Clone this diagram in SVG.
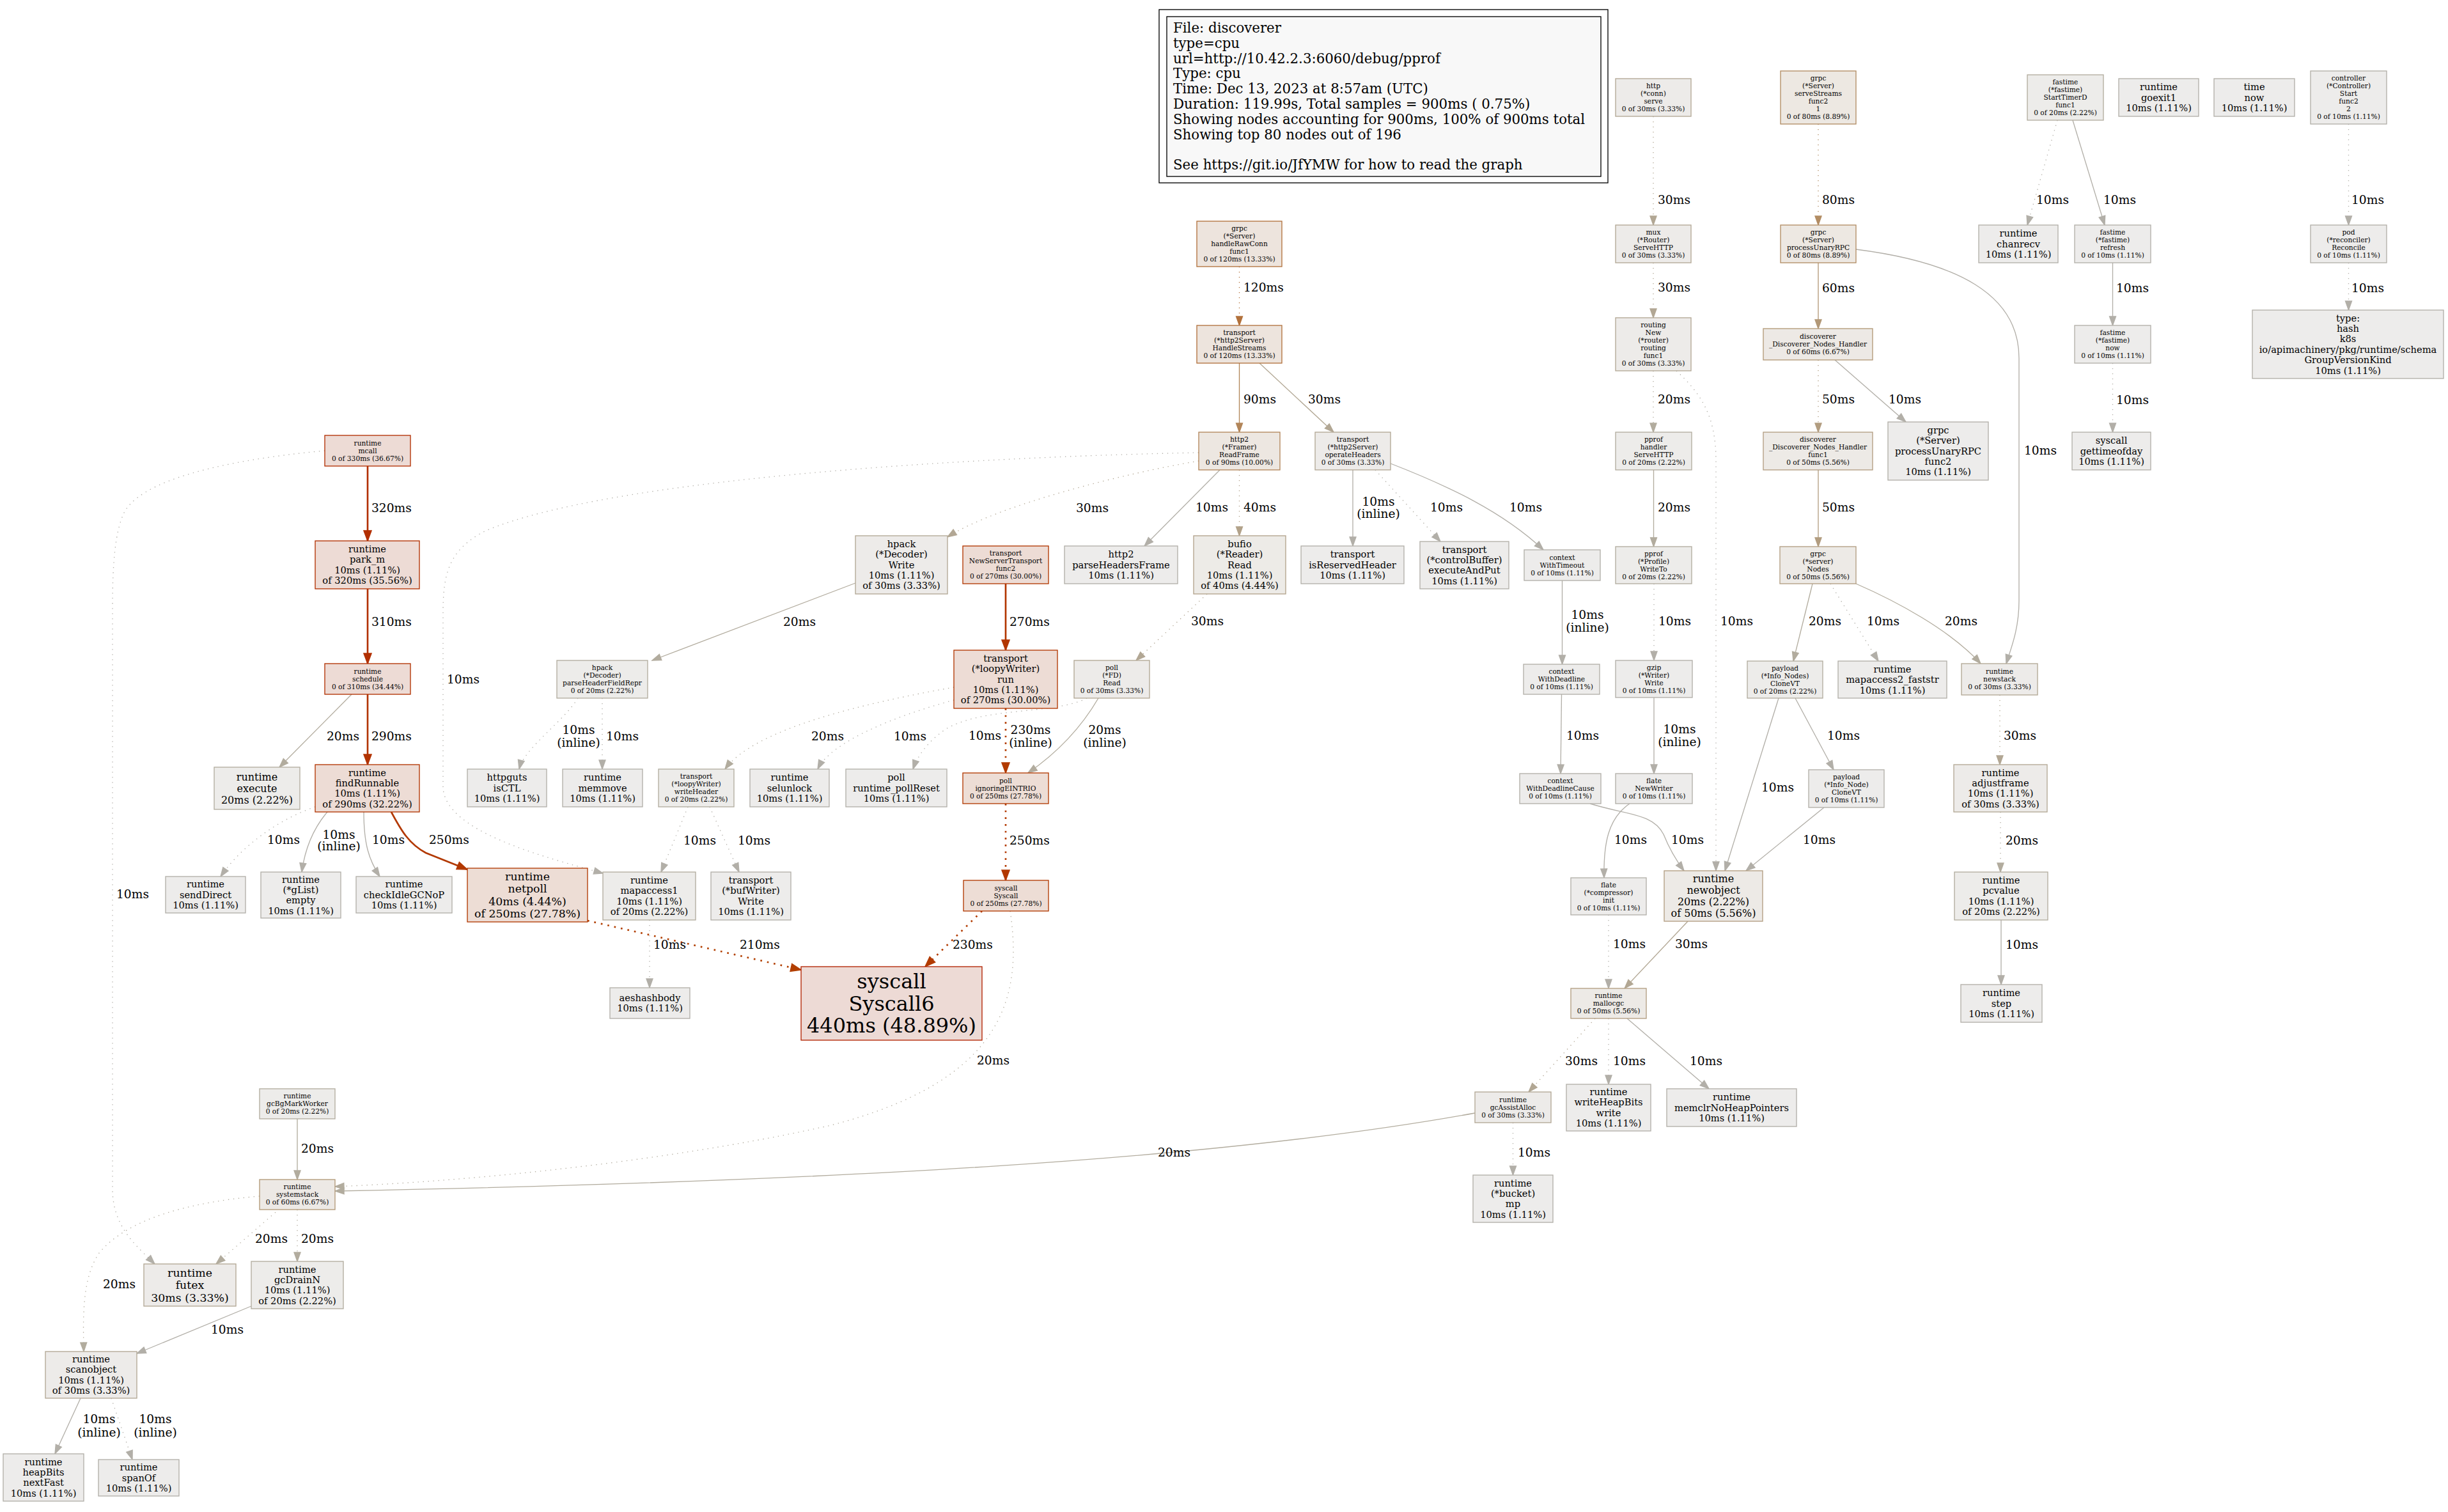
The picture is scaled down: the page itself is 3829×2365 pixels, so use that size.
<svg xmlns="http://www.w3.org/2000/svg" width="3829" height="2365" viewBox="0 0 3829 2365">
<style>
text{font-family:"DejaVu Serif","Liberation Serif",serif;fill:#000}
.n text{text-anchor:middle}
.n rect{stroke-width:1.33}
.f8{font-size:10.67px}.f11{font-size:14.67px}.f12{font-size:16px}.f13{font-size:17.33px}.f24{font-size:32px}
#edges path{fill:none;stroke-width:1.33}
#edges text{font-size:18.67px}
#edges text.m{text-anchor:middle}
#edges .w2{stroke-width:2.67}
#edges .d{stroke-dasharray:1.33 6.67}
#edges .dt{stroke-dasharray:2.67 8}
.c1{stroke:#b2afa8;marker-end:url(#m1)}
.c2{stroke:#b2ac9e;marker-end:url(#m2)}
.c3{stroke:#b2a794;marker-end:url(#m3)}
.c4{stroke:#b2a28a;marker-end:url(#m4)}
.c5{stroke:#b29d80;marker-end:url(#m5)}
.c6{stroke:#b29877;marker-end:url(#m6)}
.c8{stroke:#b28c63;marker-end:url(#m8)}
.c9{stroke:#b28559;marker-end:url(#m9)}
.c12{stroke:#b2713b;marker-end:url(#m12)}
.c21{stroke:#b23f00;marker-end:url(#m21)}
.c23{stroke:#b23b00;marker-end:url(#m23)}
.c25{stroke:#b23800;marker-end:url(#m25)}
.c27{stroke:#b23600;marker-end:url(#m27)}
.c29{stroke:#b23300;marker-end:url(#m29)}
.c31{stroke:#b23000;marker-end:url(#m31)}
.c32{stroke:#b22f00;marker-end:url(#m32)}
</style>
<defs>
<marker id="m1" markerUnits="userSpaceOnUse" markerWidth="16" markerHeight="12" refX="14" refY="5" orient="auto" overflow="visible"><path d="M0,0L14,5L0,10z" fill="#b2afa8" stroke="#b2afa8" stroke-width="1.33"/></marker>
<marker id="m2" markerUnits="userSpaceOnUse" markerWidth="16" markerHeight="12" refX="14" refY="5" orient="auto" overflow="visible"><path d="M0,0L14,5L0,10z" fill="#b2ac9e" stroke="#b2ac9e" stroke-width="1.33"/></marker>
<marker id="m3" markerUnits="userSpaceOnUse" markerWidth="16" markerHeight="12" refX="14" refY="5" orient="auto" overflow="visible"><path d="M0,0L14,5L0,10z" fill="#b2a794" stroke="#b2a794" stroke-width="1.33"/></marker>
<marker id="m4" markerUnits="userSpaceOnUse" markerWidth="16" markerHeight="12" refX="14" refY="5" orient="auto" overflow="visible"><path d="M0,0L14,5L0,10z" fill="#b2a28a" stroke="#b2a28a" stroke-width="1.33"/></marker>
<marker id="m5" markerUnits="userSpaceOnUse" markerWidth="16" markerHeight="12" refX="14" refY="5" orient="auto" overflow="visible"><path d="M0,0L14,5L0,10z" fill="#b29d80" stroke="#b29d80" stroke-width="1.33"/></marker>
<marker id="m6" markerUnits="userSpaceOnUse" markerWidth="16" markerHeight="12" refX="14" refY="5" orient="auto" overflow="visible"><path d="M0,0L14,5L0,10z" fill="#b29877" stroke="#b29877" stroke-width="1.33"/></marker>
<marker id="m8" markerUnits="userSpaceOnUse" markerWidth="16" markerHeight="12" refX="14" refY="5" orient="auto" overflow="visible"><path d="M0,0L14,5L0,10z" fill="#b28c63" stroke="#b28c63" stroke-width="1.33"/></marker>
<marker id="m9" markerUnits="userSpaceOnUse" markerWidth="16" markerHeight="12" refX="14" refY="5" orient="auto" overflow="visible"><path d="M0,0L14,5L0,10z" fill="#b28559" stroke="#b28559" stroke-width="1.33"/></marker>
<marker id="m12" markerUnits="userSpaceOnUse" markerWidth="16" markerHeight="12" refX="14" refY="5" orient="auto" overflow="visible"><path d="M0,0L14,5L0,10z" fill="#b2713b" stroke="#b2713b" stroke-width="1.33"/></marker>
<marker id="m21" markerUnits="userSpaceOnUse" markerWidth="18" markerHeight="14" refX="16" refY="6" orient="auto" overflow="visible"><path d="M0,0L16,6L0,12z" fill="#b23f00" stroke="#b23f00" stroke-width="1.5"/></marker>
<marker id="m23" markerUnits="userSpaceOnUse" markerWidth="18" markerHeight="14" refX="16" refY="6" orient="auto" overflow="visible"><path d="M0,0L16,6L0,12z" fill="#b23b00" stroke="#b23b00" stroke-width="1.5"/></marker>
<marker id="m25" markerUnits="userSpaceOnUse" markerWidth="18" markerHeight="14" refX="16" refY="6" orient="auto" overflow="visible"><path d="M0,0L16,6L0,12z" fill="#b23800" stroke="#b23800" stroke-width="1.5"/></marker>
<marker id="m27" markerUnits="userSpaceOnUse" markerWidth="18" markerHeight="14" refX="16" refY="6" orient="auto" overflow="visible"><path d="M0,0L16,6L0,12z" fill="#b23600" stroke="#b23600" stroke-width="1.5"/></marker>
<marker id="m29" markerUnits="userSpaceOnUse" markerWidth="18" markerHeight="14" refX="16" refY="6" orient="auto" overflow="visible"><path d="M0,0L16,6L0,12z" fill="#b23300" stroke="#b23300" stroke-width="1.5"/></marker>
<marker id="m31" markerUnits="userSpaceOnUse" markerWidth="18" markerHeight="14" refX="16" refY="6" orient="auto" overflow="visible"><path d="M0,0L16,6L0,12z" fill="#b23000" stroke="#b23000" stroke-width="1.5"/></marker>
<marker id="m32" markerUnits="userSpaceOnUse" markerWidth="18" markerHeight="14" refX="16" refY="6" orient="auto" overflow="visible"><path d="M0,0L16,6L0,12z" fill="#b22f00" stroke="#b22f00" stroke-width="1.5"/></marker>
</defs>
<rect x="0" y="0" width="3829" height="2365" fill="#fff"/>

<g id="legend">
<rect x="1813" y="15" width="702" height="271" fill="#fff" stroke="#000" stroke-width="1.33"/>
<rect x="1825" y="26" width="679" height="250" fill="#f8f8f8" stroke="#000" stroke-width="1.33"/>
<text x="1835" y="51" font-size="21.33" style="white-space:pre">File: discoverer<tspan x="1835" dy="23.8">type=cpu</tspan><tspan x="1835" dy="23.8">url=http://10.42.2.3:6060/debug/pprof</tspan><tspan x="1835" dy="23.8">Type: cpu</tspan><tspan x="1835" dy="23.8">Time: Dec 13, 2023 at 8:57am (UTC)</tspan><tspan x="1835" dy="23.8">Duration: 119.99s, Total samples = 900ms ( 0.75%)</tspan><tspan x="1835" dy="23.8">Showing nodes accounting for 900ms, 100% of 900ms total</tspan><tspan x="1835" dy="23.8">Showing top 80 nodes out of 196</tspan><tspan x="1835" dy="47.6">See https://git.io/JfYMW for how to read the graph</tspan></text>
</g>

<g id="edges">
<g><path class="c3 d" d="M2586,182L2586,352"/><text x="2593" y="318.5">30ms</text></g>
<g><path class="c3 d" d="M2586,411L2586,497"/><text x="2593" y="455.5">30ms</text></g>
<g><path class="c2 d" d="M2586,580L2586,676"/><text x="2593" y="630.5">20ms</text></g>
<g><path class="c1 d" d="M2622,580C2660,615 2684,650 2684,720L2684,1362"/><text x="2691" y="977.5">10ms</text></g>
<g><path class="c2" d="M2586.5,735L2586.5,855"/><text x="2593" y="799.5">20ms</text></g>
<g><path class="c1 d" d="M2587,913L2587,1033"/><text x="2594" y="977.5">10ms</text></g>
<g><path class="c1" d="M2587,1091L2587,1210"/><text class="m" x="2627" y="1146.5">10ms<tspan x="2627" dy="20">(inline)</tspan></text></g>
<g><path class="c1" d="M2549,1257C2515,1280 2508,1320 2509,1373"/><text x="2525" y="1319.5">10ms</text></g>
<g><path class="c1 d" d="M2516,1431L2516,1546"/><text x="2523" y="1482.5">10ms</text></g>
<g><path class="c8 d" d="M2844,194L2844,352"/><text x="2850" y="318.5">80ms</text></g>
<g><path class="c6" d="M2844,411L2844,514"/><text x="2850" y="456.5">60ms</text></g>
<g><path class="c1" d="M2903,390C3060,410 3158,460 3158,560L3158,940C3158,985 3145,1015 3138,1038"/><text x="3166" y="710.5">10ms</text></g>
<g><path class="c5 d" d="M2844,563L2844,676"/><text x="2850" y="630.5">50ms</text></g>
<g><path class="c1" d="M2870,563L2981,660"/><text x="2954" y="630.5">10ms</text></g>
<g><path class="c5" d="M2844,735L2844,855"/><text x="2850" y="799.5">50ms</text></g>
<g><path class="c2" d="M2835,913L2805,1034"/><text x="2829" y="977.5">20ms</text></g>
<g><path class="c1 d" d="M2863,913L2938,1034"/><text x="2920" y="977.5">10ms</text></g>
<g><path class="c2" d="M2903,913C2965,940 3050,985 3098,1038"/><text x="3042" y="977.5">20ms</text></g>
<g><path class="c1" d="M2808,1092L2868,1204"/><text x="2858" y="1156.5">10ms</text></g>
<g><path class="c1" d="M2782,1092L2698,1362"/><text x="2755" y="1237.5">10ms</text></g>
<g><path class="c1" d="M2853,1263L2731,1362"/><text x="2820" y="1319.5">10ms</text></g>
<g><path class="c3 d" d="M3128,1087L3128,1196"/><text x="3134" y="1156.5">30ms</text></g>
<g><path class="c2 d" d="M3129,1270L3129,1364"/><text x="3137" y="1320.5">20ms</text></g>
<g><path class="c1" d="M3130,1439L3130,1540"/><text x="3137" y="1483.5">10ms</text></g>
<g><path class="c1 d" d="M3218,188L3171,352"/><text x="3185" y="318.5">10ms</text></g>
<g><path class="c1" d="M3242,188L3292,352"/><text x="3290" y="318.5">10ms</text></g>
<g><path class="c1" d="M3304.5,411L3304.5,509"/><text x="3310" y="456.5">10ms</text></g>
<g><path class="c1 d" d="M3304.5,568L3304.5,676"/><text x="3310" y="631.5">10ms</text></g>
<g><path class="c1 d" d="M3673.5,194L3673.5,352"/><text x="3678" y="318.5">10ms</text></g>
<g><path class="c1 d" d="M3673.5,411L3673.5,485"/><text x="3678" y="456.5">10ms</text></g>
<g><path class="c12 d" d="M1938.5,417L1938.5,509"/><text x="1945" y="455.5">120ms</text></g>
<g><path class="c9" d="M1938.5,568L1938.5,676"/><text x="1945" y="630.5">90ms</text></g>
<g><path class="c3" d="M1970,568L2086,676"/><text x="2046" y="630.5">30ms</text></g>
<g><path class="c3 d" d="M1875,721C1760,740 1560,790 1482,840"/><text x="1683" y="800.5">30ms</text></g>
<g><path class="c1" d="M1908,735L1790,854"/><text x="1870" y="799.5">10ms</text></g>
<g><path class="c4 d" d="M1938.5,735L1938.5,838"/><text x="1945" y="799.5">40ms</text></g>
<g><path class="c1 d" d="M1875,708C1500,715 950,750 760,830C700,860 693,900 693,960L693,1230C693,1300 850,1340 943,1366"/><text x="699" y="1068.5">10ms</text></g>
<g><path class="c1" d="M2116,735L2116,854"/><text class="m" x="2156" y="790.5">10ms<tspan x="2156" dy="19">(inline)</tspan></text></g>
<g><path class="c1 d" d="M2151,735L2253,847"/><text x="2237" y="799.5">10ms</text></g>
<g><path class="c1" d="M2175,725C2265,760 2350,800 2414,860"/><text x="2361" y="799.5">10ms</text></g>
<g><path class="c1" d="M2443.5,908L2443.5,1039"/><text class="m" x="2483" y="967.5">10ms<tspan x="2483" dy="20">(inline)</tspan></text></g>
<g><path class="c1" d="M2442.5,1086L2441,1210"/><text x="2450" y="1156.5">10ms</text></g>
<g><path class="c1" d="M2487,1257C2545,1275 2585,1272 2602,1305C2612,1330 2625,1350 2634,1362"/><text x="2614" y="1319.5">10ms</text></g>
<g><path class="c3" d="M2640,1441L2541,1546"/><text x="2620" y="1482.5">30ms</text></g>
<g><path class="c3 d" d="M2495,1593L2391,1708"/><text x="2448" y="1665.5">30ms</text></g>
<g><path class="c1 d" d="M2516,1593L2516,1696"/><text x="2523" y="1665.5">10ms</text></g>
<g><path class="c1" d="M2545,1593L2673,1703"/><text x="2643" y="1665.5">10ms</text></g>
<g><path class="c1 d" d="M2366.5,1756L2366.5,1838"/><text x="2374" y="1808.5">10ms</text></g>
<g><path class="c2" d="M2307,1741C1900,1815 1300,1848 524,1863"/><text x="1811" y="1808.5">20ms</text></g>
<g><path class="c2" d="M1338,912L1020,1033"/><text x="1225" y="978.5">20ms</text></g>
<g><path class="c1 d" d="M904,1092C880,1130 820,1170 812,1203"/><text class="m" x="905" y="1147.5">10ms<tspan x="905" dy="20">(inline)</tspan></text></g>
<g><path class="c1 d" d="M942,1092L942,1203"/><text x="948" y="1157.5">10ms</text></g>
<g><path class="c27 w2" d="M1573,913L1573,1017"/><text x="1579" y="978.5">270ms</text></g>
<g><path class="c2 d" d="M1492,1075C1350,1100 1180,1140 1134,1203"/><text x="1269" y="1157.5">20ms</text></g>
<g><path class="c1 d" d="M1492,1095C1400,1120 1300,1160 1279,1203"/><text x="1398" y="1157.5">10ms</text></g>
<g><path class="c1 d" d="M1700,1092C1650,1118 1540,1105 1480,1140C1450,1160 1434,1185 1428,1203"/><text x="1515" y="1156.5">10ms</text></g>
<g><path class="c23 w2 dt" d="M1573,1108L1573,1209"/><text class="m" x="1612" y="1147.5">230ms<tspan x="1612" dy="20">(inline)</tspan></text></g>
<g><path class="c3 d" d="M1888,929L1777,1033"/><text x="1863" y="977.5">30ms</text></g>
<g><path class="c2" d="M1718,1092C1690,1140 1650,1180 1608,1209"/><text class="m" x="1728" y="1147.5">20ms<tspan x="1728" dy="20">(inline)</tspan></text></g>
<g><path class="c1 d" d="M508,705C400,715 230,740 195,800C180,830 176,880 176,950L176,1860C176,1920 215,1950 242,1977"/><text x="182" y="1404.5">10ms</text></g>
<g><path class="c32 w2" d="M575,729L575,846"/><text x="581" y="800.5">320ms</text></g>
<g><path class="c31 w2" d="M575,921L575,1038"/><text x="581" y="978.5">310ms</text></g>
<g><path class="c2" d="M550,1086L437,1200"/><text x="511" y="1157.5">20ms</text></g>
<g><path class="c29 w2" d="M575,1086L575,1196"/><text x="581" y="1157.5">290ms</text></g>
<g><path class="c1 d" d="M493,1262C440,1280 380,1320 345,1371"/><text x="418" y="1319.5">10ms</text></g>
<g><path class="c1" d="M512,1270C495,1290 478,1320 472,1364"/><text class="m" x="530" y="1311.5">10ms<tspan x="530" dy="18">(inline)</tspan></text></g>
<g><path class="c1" d="M569,1270C569,1320 577,1345 594,1371"/><text x="582" y="1319.5">10ms</text></g>
<g><path class="c25 w2" d="M612,1270C628,1300 640,1320 666,1334L731,1360"/><text x="671" y="1319.5">250ms</text></g>
<g><path class="c21 w2 dt" d="M919,1440L1253,1517"/><text x="1157" y="1483.5">210ms</text></g>
<g><path class="c1 d" d="M1016,1439L1016,1545"/><text x="1022" y="1483.5">10ms</text></g>
<g><path class="c25 w2 dt" d="M1573,1257L1573,1377"/><text x="1579" y="1320.5">250ms</text></g>
<g><path class="c23 w2 dt" d="M1536,1425L1447,1512"/><text x="1490" y="1483.5">230ms</text></g>
<g><path class="c2 d" d="M1580,1425C1600,1560 1570,1690 1300,1760C1100,1805 800,1845 524,1856"/><text x="1528" y="1664.5">20ms</text></g>
<g><path class="c2" d="M465,1750L465,1845"/><text x="471" y="1802.5">20ms</text></g>
<g><path class="c2 d" d="M437,1891L338,1977"/><text x="399" y="1943.5">20ms</text></g>
<g><path class="c2 d" d="M465,1892L465,1973"/><text x="471" y="1943.5">20ms</text></g>
<g><path class="c2 d" d="M406,1871C300,1880 200,1905 155,1960C128,2000 130,2060 131,2114"/><text x="161" y="2014.5">20ms</text></g>
<g><path class="c1" d="M393,2043L214,2117"/><text x="330" y="2085.5">10ms</text></g>
<g><path class="c1" d="M126,2187L86,2274"/><text class="m" x="155" y="2225.5">10ms<tspan x="155" dy="21">(inline)</tspan></text></g>
<g><path class="c1 d" d="M174,2187L207,2283"/><text class="m" x="243" y="2225.5">10ms<tspan x="243" dy="21">(inline)</tspan></text></g>
<g><path class="c1 d" d="M1076,1262L1034,1364"/><text x="1069" y="1320.5">10ms</text></g>
<g><path class="c1 d" d="M1110,1262L1156,1364"/><text x="1154" y="1320.5">10ms</text></g>
</g>

<g id="node-http-conn-serve" class="n"><rect x="2527" y="123" width="118" height="59" fill="#edebe9" stroke="#b2a794"/><text class="f8" x="2586" y="138.2">http<tspan x="2586" dy="12">(*conn)</tspan><tspan x="2586" dy="12">serve</tspan><tspan x="2586" dy="12">0 of 30ms (3.33%)</tspan></text></g>
<g id="node-grpc-serveStreams" class="n"><rect x="2785" y="111" width="118" height="83" fill="#ede8e2" stroke="#b28c63"/><text class="f8" x="2844" y="126.2">grpc<tspan x="2844" dy="12">(*Server)</tspan><tspan x="2844" dy="12">serveStreams</tspan><tspan x="2844" dy="12">func2</tspan><tspan x="2844" dy="12">1</tspan><tspan x="2844" dy="12">0 of 80ms (8.89%)</tspan></text></g>
<g id="node-fastime-StartTimerD" class="n"><rect x="3171" y="117" width="119" height="71" fill="#edecea" stroke="#b2ac9e"/><text class="f8" x="3230.5" y="132.2">fastime<tspan x="3230.5" dy="12">(*fastime)</tspan><tspan x="3230.5" dy="12">StartTimerD</tspan><tspan x="3230.5" dy="12">func1</tspan><tspan x="3230.5" dy="12">0 of 20ms (2.22%)</tspan></text></g>
<g id="node-runtime-goexit1" class="n"><rect x="3314" y="123" width="125" height="59" fill="#edeceb" stroke="#b2afa8"/><text class="f11" x="3376.5" y="141.2">runtime<tspan x="3376.5" dy="16.4">goexit1</tspan><tspan x="3376.5" dy="16.4">10ms (1.11%)</tspan></text></g>
<g id="node-time-now" class="n"><rect x="3463" y="123" width="126" height="59" fill="#edeceb" stroke="#b2afa8"/><text class="f11" x="3526" y="141.2">time<tspan x="3526" dy="16.4">now</tspan><tspan x="3526" dy="16.4">10ms (1.11%)</tspan></text></g>
<g id="node-controller-Start" class="n"><rect x="3614" y="111" width="119" height="83" fill="#edeceb" stroke="#b2afa8"/><text class="f8" x="3673.5" y="126.2">controller<tspan x="3673.5" dy="12">(*Controller)</tspan><tspan x="3673.5" dy="12">Start</tspan><tspan x="3673.5" dy="12">func2</tspan><tspan x="3673.5" dy="12">2</tspan><tspan x="3673.5" dy="12">0 of 10ms (1.11%)</tspan></text></g>

<g id="node-grpc-handleRawConn" class="n"><rect x="1872" y="346" width="133" height="71" fill="#ede4dd" stroke="#b2713b"/><text class="f8" x="1938.5" y="361.2">grpc<tspan x="1938.5" dy="12">(*Server)</tspan><tspan x="1938.5" dy="12">handleRawConn</tspan><tspan x="1938.5" dy="12">func1</tspan><tspan x="1938.5" dy="12">0 of 120ms (13.33%)</tspan></text></g>
<g id="node-mux-ServeHTTP" class="n"><rect x="2527" y="352" width="118" height="59" fill="#edebe9" stroke="#b2a794"/><text class="f8" x="2586" y="367.2">mux<tspan x="2586" dy="12">(*Router)</tspan><tspan x="2586" dy="12">ServeHTTP</tspan><tspan x="2586" dy="12">0 of 30ms (3.33%)</tspan></text></g>
<g id="node-grpc-processUnaryRPC" class="n"><rect x="2785" y="352" width="118" height="59" fill="#ede8e2" stroke="#b28c63"/><text class="f8" x="2844" y="367.2">grpc<tspan x="2844" dy="12">(*Server)</tspan><tspan x="2844" dy="12">processUnaryRPC</tspan><tspan x="2844" dy="12">0 of 80ms (8.89%)</tspan></text></g>
<g id="node-runtime-chanrecv" class="n"><rect x="3095" y="352" width="124" height="59" fill="#edeceb" stroke="#b2afa8"/><text class="f11" x="3157" y="370.2">runtime<tspan x="3157" dy="16.4">chanrecv</tspan><tspan x="3157" dy="16.4">10ms (1.11%)</tspan></text></g>
<g id="node-fastime-refresh" class="n"><rect x="3245" y="352" width="119" height="59" fill="#edeceb" stroke="#b2afa8"/><text class="f8" x="3304.5" y="367.2">fastime<tspan x="3304.5" dy="12">(*fastime)</tspan><tspan x="3304.5" dy="12">refresh</tspan><tspan x="3304.5" dy="12">0 of 10ms (1.11%)</tspan></text></g>
<g id="node-pod-Reconcile" class="n"><rect x="3614" y="352" width="119" height="59" fill="#edeceb" stroke="#b2afa8"/><text class="f8" x="3673.5" y="367.2">pod<tspan x="3673.5" dy="12">(*reconciler)</tspan><tspan x="3673.5" dy="12">Reconcile</tspan><tspan x="3673.5" dy="12">0 of 10ms (1.11%)</tspan></text></g>

<g id="node-transport-HandleStreams" class="n"><rect x="1872" y="509" width="133" height="59" fill="#ede4dd" stroke="#b2713b"/><text class="f8" x="1938.5" y="524.2">transport<tspan x="1938.5" dy="12">(*http2Server)</tspan><tspan x="1938.5" dy="12">HandleStreams</tspan><tspan x="1938.5" dy="12">0 of 120ms (13.33%)</tspan></text></g>
<g id="node-routing-func1" class="n"><rect x="2527" y="497" width="118" height="83" fill="#edebe9" stroke="#b2a794"/><text class="f8" x="2586" y="512.2">routing<tspan x="2586" dy="12">New</tspan><tspan x="2586" dy="12">(*router)</tspan><tspan x="2586" dy="12">routing</tspan><tspan x="2586" dy="12">func1</tspan><tspan x="2586" dy="12">0 of 30ms (3.33%)</tspan></text></g>
<g id="node-discoverer-handler" class="n"><rect x="2758" y="514" width="171" height="49" fill="#ede9e5" stroke="#b29877"/><text class="f8" x="2843.5" y="530.2">discoverer<tspan x="2843.5" dy="12">_Discoverer_Nodes_Handler</tspan><tspan x="2843.5" dy="12">0 of 60ms (6.67%)</tspan></text></g>
<g id="node-fastime-now" class="n"><rect x="3245" y="509" width="119" height="59" fill="#edeceb" stroke="#b2afa8"/><text class="f8" x="3304.5" y="524.2">fastime<tspan x="3304.5" dy="12">(*fastime)</tspan><tspan x="3304.5" dy="12">now</tspan><tspan x="3304.5" dy="12">0 of 10ms (1.11%)</tspan></text></g>
<g id="node-type-hash" class="n"><rect x="3523" y="485" width="299" height="107" fill="#edeceb" stroke="#b2afa8"/><text class="f11" x="3672.5" y="502.6">type:<tspan x="3672.5" dy="16.4">hash</tspan><tspan x="3672.5" dy="16.4">k8s</tspan><tspan x="3672.5" dy="16.4">io/apimachinery/pkg/runtime/schema</tspan><tspan x="3672.5" dy="16.4">GroupVersionKind</tspan><tspan x="3672.5" dy="16.4">10ms (1.11%)</tspan></text></g>

<g id="node-runtime-mcall" class="n"><rect x="508" y="681" width="134" height="48" fill="#eddbd5" stroke="#b22e00"/><text class="f8" x="575" y="696.7">runtime<tspan x="575" dy="12">mcall</tspan><tspan x="575" dy="12">0 of 330ms (36.67%)</tspan></text></g>
<g id="node-http2-ReadFrame" class="n"><rect x="1875" y="676" width="127" height="59" fill="#ede7e1" stroke="#b28559"/><text class="f8" x="1938.5" y="691.2">http2<tspan x="1938.5" dy="12">(*Framer)</tspan><tspan x="1938.5" dy="12">ReadFrame</tspan><tspan x="1938.5" dy="12">0 of 90ms (10.00%)</tspan></text></g>
<g id="node-transport-operateHeaders" class="n"><rect x="2057" y="676" width="118" height="59" fill="#edebe9" stroke="#b2a794"/><text class="f8" x="2116" y="691.2">transport<tspan x="2116" dy="12">(*http2Server)</tspan><tspan x="2116" dy="12">operateHeaders</tspan><tspan x="2116" dy="12">0 of 30ms (3.33%)</tspan></text></g>
<g id="node-pprof-handler" class="n"><rect x="2527" y="676" width="119" height="59" fill="#edecea" stroke="#b2ac9e"/><text class="f8" x="2586.5" y="691.2">pprof<tspan x="2586.5" dy="12">handler</tspan><tspan x="2586.5" dy="12">ServeHTTP</tspan><tspan x="2586.5" dy="12">0 of 20ms (2.22%)</tspan></text></g>
<g id="node-discoverer-handler-func1" class="n"><rect x="2758" y="676" width="171" height="59" fill="#edeae6" stroke="#b29d80"/><text class="f8" x="2843.5" y="691.2">discoverer<tspan x="2843.5" dy="12">_Discoverer_Nodes_Handler</tspan><tspan x="2843.5" dy="12">func1</tspan><tspan x="2843.5" dy="12">0 of 50ms (5.56%)</tspan></text></g>
<g id="node-grpc-processUnaryRPC-func2" class="n"><rect x="2953" y="660" width="157" height="91" fill="#edeceb" stroke="#b2afa8"/><text class="f11" x="3031.5" y="677.8">grpc<tspan x="3031.5" dy="16.4">(*Server)</tspan><tspan x="3031.5" dy="16.4">processUnaryRPC</tspan><tspan x="3031.5" dy="16.4">func2</tspan><tspan x="3031.5" dy="16.4">10ms (1.11%)</tspan></text></g>
<g id="node-syscall-gettimeofday" class="n"><rect x="3241" y="676" width="123" height="59" fill="#edeceb" stroke="#b2afa8"/><text class="f11" x="3302.5" y="694.2">syscall<tspan x="3302.5" dy="16.4">gettimeofday</tspan><tspan x="3302.5" dy="16.4">10ms (1.11%)</tspan></text></g>

<g id="node-runtime-park_m" class="n"><rect x="493" y="846" width="163" height="75" fill="#eddbd5" stroke="#b22f00"/><text class="f11" x="574.5" y="864">runtime<tspan x="574.5" dy="16.4">park_m</tspan><tspan x="574.5" dy="16.4">10ms (1.11%)</tspan><tspan x="574.5" dy="16.4">of 320ms (35.56%)</tspan></text></g>
<g id="node-hpack-Write" class="n"><rect x="1338" y="838" width="144" height="91" fill="#edebe9" stroke="#b2a794"/><text class="f11" x="1410" y="855.8">hpack<tspan x="1410" dy="16.4">(*Decoder)</tspan><tspan x="1410" dy="16.4">Write</tspan><tspan x="1410" dy="16.4">10ms (1.11%)</tspan><tspan x="1410" dy="16.4">of 30ms (3.33%)</tspan></text></g>
<g id="node-transport-NewServerTransport" class="n"><rect x="1506" y="854" width="134" height="59" fill="#eddcd5" stroke="#b23600"/><text class="f8" x="1573" y="869.2">transport<tspan x="1573" dy="12">NewServerTransport</tspan><tspan x="1573" dy="12">func2</tspan><tspan x="1573" dy="12">0 of 270ms (30.00%)</tspan></text></g>
<g id="node-http2-parseHeadersFrame" class="n"><rect x="1665" y="854" width="177" height="59" fill="#edeceb" stroke="#b2afa8"/><text class="f11" x="1753.5" y="872.2">http2<tspan x="1753.5" dy="16.4">parseHeadersFrame</tspan><tspan x="1753.5" dy="16.4">10ms (1.11%)</tspan></text></g>
<g id="node-bufio-Read" class="n"><rect x="1867" y="838" width="144" height="91" fill="#edebe7" stroke="#b2a28a"/><text class="f11" x="1939" y="855.8">bufio<tspan x="1939" dy="16.4">(*Reader)</tspan><tspan x="1939" dy="16.4">Read</tspan><tspan x="1939" dy="16.4">10ms (1.11%)</tspan><tspan x="1939" dy="16.4">of 40ms (4.44%)</tspan></text></g>
<g id="node-transport-isReservedHeader" class="n"><rect x="2035" y="854" width="161" height="59" fill="#edeceb" stroke="#b2afa8"/><text class="f11" x="2115.5" y="872.2">transport<tspan x="2115.5" dy="16.4">isReservedHeader</tspan><tspan x="2115.5" dy="16.4">10ms (1.11%)</tspan></text></g>
<g id="node-transport-executeAndPut" class="n"><rect x="2221" y="847" width="139" height="74" fill="#edeceb" stroke="#b2afa8"/><text class="f11" x="2290.5" y="864.5">transport<tspan x="2290.5" dy="16.4">(*controlBuffer)</tspan><tspan x="2290.5" dy="16.4">executeAndPut</tspan><tspan x="2290.5" dy="16.4">10ms (1.11%)</tspan></text></g>
<g id="node-context-WithTimeout" class="n"><rect x="2384" y="860" width="119" height="48" fill="#edeceb" stroke="#b2afa8"/><text class="f8" x="2443.5" y="875.7">context<tspan x="2443.5" dy="12">WithTimeout</tspan><tspan x="2443.5" dy="12">0 of 10ms (1.11%)</tspan></text></g>
<g id="node-pprof-WriteTo" class="n"><rect x="2527" y="855" width="119" height="58" fill="#edecea" stroke="#b2ac9e"/><text class="f8" x="2586.5" y="869.7">pprof<tspan x="2586.5" dy="12">(*Profile)</tspan><tspan x="2586.5" dy="12">WriteTo</tspan><tspan x="2586.5" dy="12">0 of 20ms (2.22%)</tspan></text></g>
<g id="node-grpc-Nodes" class="n"><rect x="2784" y="855" width="119" height="58" fill="#edeae6" stroke="#b29d80"/><text class="f8" x="2843.5" y="869.7">grpc<tspan x="2843.5" dy="12">(*server)</tspan><tspan x="2843.5" dy="12">Nodes</tspan><tspan x="2843.5" dy="12">0 of 50ms (5.56%)</tspan></text></g>

<g id="node-runtime-schedule" class="n"><rect x="508" y="1038" width="134" height="48" fill="#eddbd5" stroke="#b23000"/><text class="f8" x="575" y="1053.7">runtime<tspan x="575" dy="12">schedule</tspan><tspan x="575" dy="12">0 of 310ms (34.44%)</tspan></text></g>
<g id="node-hpack-parseHeaderFieldRepr" class="n"><rect x="871" y="1033" width="142" height="59" fill="#edecea" stroke="#b2ac9e"/><text class="f8" x="942" y="1048.2">hpack<tspan x="942" dy="12">(*Decoder)</tspan><tspan x="942" dy="12">parseHeaderFieldRepr</tspan><tspan x="942" dy="12">0 of 20ms (2.22%)</tspan></text></g>
<g id="node-transport-loopyWriter-run" class="n"><rect x="1492" y="1017" width="162" height="91" fill="#eddcd5" stroke="#b23600"/><text class="f11" x="1573" y="1034.8">transport<tspan x="1573" dy="16.4">(*loopyWriter)</tspan><tspan x="1573" dy="16.4">run</tspan><tspan x="1573" dy="16.4">10ms (1.11%)</tspan><tspan x="1573" dy="16.4">of 270ms (30.00%)</tspan></text></g>
<g id="node-poll-FD-Read" class="n"><rect x="1680" y="1033" width="118" height="59" fill="#edebe9" stroke="#b2a794"/><text class="f8" x="1739" y="1048.2">poll<tspan x="1739" dy="12">(*FD)</tspan><tspan x="1739" dy="12">Read</tspan><tspan x="1739" dy="12">0 of 30ms (3.33%)</tspan></text></g>
<g id="node-context-WithDeadline" class="n"><rect x="2383" y="1039" width="119" height="47" fill="#edeceb" stroke="#b2afa8"/><text class="f8" x="2442.5" y="1054.2">context<tspan x="2442.5" dy="12">WithDeadline</tspan><tspan x="2442.5" dy="12">0 of 10ms (1.11%)</tspan></text></g>
<g id="node-gzip-Write" class="n"><rect x="2527" y="1033" width="120" height="58" fill="#edeceb" stroke="#b2afa8"/><text class="f8" x="2587" y="1048.2">gzip<tspan x="2587" dy="12">(*Writer)</tspan><tspan x="2587" dy="12">Write</tspan><tspan x="2587" dy="12">0 of 10ms (1.11%)</tspan></text></g>
<g id="node-payload-Info_Nodes-CloneVT" class="n"><rect x="2733" y="1034" width="118" height="58" fill="#edecea" stroke="#b2ac9e"/><text class="f8" x="2792" y="1048.7">payload<tspan x="2792" dy="12">(*Info_Nodes)</tspan><tspan x="2792" dy="12">CloneVT</tspan><tspan x="2792" dy="12">0 of 20ms (2.22%)</tspan></text></g>
<g id="node-runtime-mapaccess2_faststr" class="n"><rect x="2875" y="1034" width="170" height="58" fill="#edeceb" stroke="#b2afa8"/><text class="f11" x="2960" y="1051.7">runtime<tspan x="2960" dy="16.4">mapaccess2_faststr</tspan><tspan x="2960" dy="16.4">10ms (1.11%)</tspan></text></g>
<g id="node-runtime-newstack" class="n"><rect x="3068" y="1038" width="119" height="49" fill="#edebe9" stroke="#b2a794"/><text class="f8" x="3127.5" y="1054.2">runtime<tspan x="3127.5" dy="12">newstack</tspan><tspan x="3127.5" dy="12">0 of 30ms (3.33%)</tspan></text></g>

<g id="node-runtime-execute" class="n"><rect x="335" y="1200" width="134" height="66" fill="#edecea" stroke="#b2ac9e"/><text class="f12" x="402" y="1220.7">runtime<tspan x="402" dy="17.9">execute</tspan><tspan x="402" dy="17.9">20ms (2.22%)</tspan></text></g>
<g id="node-runtime-findRunnable" class="n"><rect x="493" y="1196" width="163" height="74" fill="#eddcd5" stroke="#b23300"/><text class="f11" x="574.5" y="1213.5">runtime<tspan x="574.5" dy="16.4">findRunnable</tspan><tspan x="574.5" dy="16.4">10ms (1.11%)</tspan><tspan x="574.5" dy="16.4">of 290ms (32.22%)</tspan></text></g>
<g id="node-httpguts-isCTL" class="n"><rect x="731" y="1203" width="124" height="59" fill="#edeceb" stroke="#b2afa8"/><text class="f11" x="793" y="1221.2">httpguts<tspan x="793" dy="16.4">isCTL</tspan><tspan x="793" dy="16.4">10ms (1.11%)</tspan></text></g>
<g id="node-runtime-memmove" class="n"><rect x="880" y="1203" width="125" height="59" fill="#edeceb" stroke="#b2afa8"/><text class="f11" x="942.5" y="1221.2">runtime<tspan x="942.5" dy="16.4">memmove</tspan><tspan x="942.5" dy="16.4">10ms (1.11%)</tspan></text></g>
<g id="node-transport-writeHeader" class="n"><rect x="1030" y="1203" width="118" height="59" fill="#edecea" stroke="#b2ac9e"/><text class="f8" x="1089" y="1218.2">transport<tspan x="1089" dy="12">(*loopyWriter)</tspan><tspan x="1089" dy="12">writeHeader</tspan><tspan x="1089" dy="12">0 of 20ms (2.22%)</tspan></text></g>
<g id="node-runtime-selunlock" class="n"><rect x="1173" y="1203" width="124" height="59" fill="#edeceb" stroke="#b2afa8"/><text class="f11" x="1235" y="1221.2">runtime<tspan x="1235" dy="16.4">selunlock</tspan><tspan x="1235" dy="16.4">10ms (1.11%)</tspan></text></g>
<g id="node-poll-runtime_pollReset" class="n"><rect x="1323" y="1203" width="158" height="59" fill="#edeceb" stroke="#b2afa8"/><text class="f11" x="1402" y="1221.2">poll<tspan x="1402" dy="16.4">runtime_pollReset</tspan><tspan x="1402" dy="16.4">10ms (1.11%)</tspan></text></g>
<g id="node-poll-ignoringEINTRIO" class="n"><rect x="1506" y="1209" width="134" height="48" fill="#edddd5" stroke="#b23800"/><text class="f8" x="1573" y="1224.7">poll<tspan x="1573" dy="12">ignoringEINTRIO</tspan><tspan x="1573" dy="12">0 of 250ms (27.78%)</tspan></text></g>
<g id="node-context-WithDeadlineCause" class="n"><rect x="2377" y="1210" width="127" height="47" fill="#edeceb" stroke="#b2afa8"/><text class="f8" x="2440.5" y="1225.2">context<tspan x="2440.5" dy="12">WithDeadlineCause</tspan><tspan x="2440.5" dy="12">0 of 10ms (1.11%)</tspan></text></g>
<g id="node-flate-NewWriter" class="n"><rect x="2527" y="1210" width="120" height="47" fill="#edeceb" stroke="#b2afa8"/><text class="f8" x="2587" y="1225.2">flate<tspan x="2587" dy="12">NewWriter</tspan><tspan x="2587" dy="12">0 of 10ms (1.11%)</tspan></text></g>
<g id="node-payload-Info_Node-CloneVT" class="n"><rect x="2829" y="1204" width="118" height="59" fill="#edeceb" stroke="#b2afa8"/><text class="f8" x="2888" y="1219.2">payload<tspan x="2888" dy="12">(*Info_Node)</tspan><tspan x="2888" dy="12">CloneVT</tspan><tspan x="2888" dy="12">0 of 10ms (1.11%)</tspan></text></g>
<g id="node-runtime-adjustframe" class="n"><rect x="3056" y="1196" width="146" height="74" fill="#edebe9" stroke="#b2a794"/><text class="f11" x="3129" y="1213.5">runtime<tspan x="3129" dy="16.4">adjustframe</tspan><tspan x="3129" dy="16.4">10ms (1.11%)</tspan><tspan x="3129" dy="16.4">of 30ms (3.33%)</tspan></text></g>

<g id="node-runtime-sendDirect" class="n"><rect x="259" y="1371" width="125" height="57" fill="#edeceb" stroke="#b2afa8"/><text class="f11" x="321.5" y="1388.2">runtime<tspan x="321.5" dy="16.4">sendDirect</tspan><tspan x="321.5" dy="16.4">10ms (1.11%)</tspan></text></g>
<g id="node-runtime-gList-empty" class="n"><rect x="408" y="1364" width="125" height="72" fill="#edeceb" stroke="#b2afa8"/><text class="f11" x="470.5" y="1380.5">runtime<tspan x="470.5" dy="16.4">(*gList)</tspan><tspan x="470.5" dy="16.4">empty</tspan><tspan x="470.5" dy="16.4">10ms (1.11%)</tspan></text></g>
<g id="node-runtime-checkIdleGCNoP" class="n"><rect x="557" y="1371" width="150" height="57" fill="#edeceb" stroke="#b2afa8"/><text class="f11" x="632" y="1388.2">runtime<tspan x="632" dy="16.4">checkIdleGCNoP</tspan><tspan x="632" dy="16.4">10ms (1.11%)</tspan></text></g>
<g id="node-runtime-netpoll" class="n"><rect x="731" y="1358" width="188" height="84" fill="#edddd5" stroke="#b23800"/><text class="f13" x="825" y="1377">runtime<tspan x="825" dy="19.4">netpoll</tspan><tspan x="825" dy="19.4">40ms (4.44%)</tspan><tspan x="825" dy="19.4">of 250ms (27.78%)</tspan></text></g>
<g id="node-runtime-mapaccess1" class="n"><rect x="943" y="1364" width="145" height="75" fill="#edecea" stroke="#b2ac9e"/><text class="f11" x="1015.5" y="1382">runtime<tspan x="1015.5" dy="16.4">mapaccess1</tspan><tspan x="1015.5" dy="16.4">10ms (1.11%)</tspan><tspan x="1015.5" dy="16.4">of 20ms (2.22%)</tspan></text></g>
<g id="node-transport-bufWriter-Write" class="n"><rect x="1112" y="1364" width="125" height="75" fill="#edeceb" stroke="#b2afa8"/><text class="f11" x="1174.5" y="1382">transport<tspan x="1174.5" dy="16.4">(*bufWriter)</tspan><tspan x="1174.5" dy="16.4">Write</tspan><tspan x="1174.5" dy="16.4">10ms (1.11%)</tspan></text></g>
<g id="node-syscall-Syscall" class="n"><rect x="1507" y="1377" width="133" height="48" fill="#edddd5" stroke="#b23800"/><text class="f8" x="1573.5" y="1392.7">syscall<tspan x="1573.5" dy="12">Syscall</tspan><tspan x="1573.5" dy="12">0 of 250ms (27.78%)</tspan></text></g>
<g id="node-flate-compressor-init" class="n"><rect x="2457" y="1373" width="118" height="58" fill="#edeceb" stroke="#b2afa8"/><text class="f8" x="2516" y="1387.7">flate<tspan x="2516" dy="12">(*compressor)</tspan><tspan x="2516" dy="12">init</tspan><tspan x="2516" dy="12">0 of 10ms (1.11%)</tspan></text></g>
<g id="node-runtime-newobject" class="n"><rect x="2603" y="1362" width="154" height="79" fill="#edeae6" stroke="#b29d80"/><text class="f12" x="2680" y="1380.3">runtime<tspan x="2680" dy="17.9">newobject</tspan><tspan x="2680" dy="17.9">20ms (2.22%)</tspan><tspan x="2680" dy="17.9">of 50ms (5.56%)</tspan></text></g>
<g id="node-runtime-pcvalue" class="n"><rect x="3057" y="1364" width="146" height="75" fill="#edecea" stroke="#b2ac9e"/><text class="f11" x="3130" y="1382">runtime<tspan x="3130" dy="16.4">pcvalue</tspan><tspan x="3130" dy="16.4">10ms (1.11%)</tspan><tspan x="3130" dy="16.4">of 20ms (2.22%)</tspan></text></g>

<g id="node-aeshashbody" class="n"><rect x="954" y="1545" width="125" height="48" fill="#edeceb" stroke="#b2afa8"/><text class="f11" x="1016.5" y="1565.9">aeshashbody<tspan x="1016.5" dy="16.4">10ms (1.11%)</tspan></text></g>
<g id="node-syscall-Syscall6" class="n"><rect x="1253" y="1512" width="283" height="115" fill="#eddad5" stroke="#b22200"/><text class="f24" x="1394.5" y="1546.2">syscall<tspan x="1394.5" dy="34.5">Syscall6</tspan><tspan x="1394.5" dy="34.5">440ms (48.89%)</tspan></text></g>
<g id="node-runtime-mallocgc" class="n"><rect x="2457" y="1546" width="118" height="47" fill="#edeae6" stroke="#b29d80"/><text class="f8" x="2516" y="1561.2">runtime<tspan x="2516" dy="12">mallocgc</tspan><tspan x="2516" dy="12">0 of 50ms (5.56%)</tspan></text></g>
<g id="node-runtime-step" class="n"><rect x="3067" y="1540" width="127" height="59" fill="#edeceb" stroke="#b2afa8"/><text class="f11" x="3130.5" y="1558.2">runtime<tspan x="3130.5" dy="16.4">step</tspan><tspan x="3130.5" dy="16.4">10ms (1.11%)</tspan></text></g>

<g id="node-runtime-gcBgMarkWorker" class="n"><rect x="406" y="1703" width="118" height="47" fill="#edecea" stroke="#b2ac9e"/><text class="f8" x="465" y="1718.2">runtime<tspan x="465" dy="12">gcBgMarkWorker</tspan><tspan x="465" dy="12">0 of 20ms (2.22%)</tspan></text></g>
<g id="node-runtime-gcAssistAlloc" class="n"><rect x="2307" y="1708" width="119" height="48" fill="#edebe9" stroke="#b2a794"/><text class="f8" x="2366.5" y="1723.7">runtime<tspan x="2366.5" dy="12">gcAssistAlloc</tspan><tspan x="2366.5" dy="12">0 of 30ms (3.33%)</tspan></text></g>
<g id="node-runtime-writeHeapBits-write" class="n"><rect x="2450" y="1696" width="132" height="73" fill="#edeceb" stroke="#b2afa8"/><text class="f11" x="2516" y="1713">runtime<tspan x="2516" dy="16.4">writeHeapBits</tspan><tspan x="2516" dy="16.4">write</tspan><tspan x="2516" dy="16.4">10ms (1.11%)</tspan></text></g>
<g id="node-runtime-memclrNoHeapPointers" class="n"><rect x="2607" y="1703" width="203" height="59" fill="#edeceb" stroke="#b2afa8"/><text class="f11" x="2708.5" y="1721.2">runtime<tspan x="2708.5" dy="16.4">memclrNoHeapPointers</tspan><tspan x="2708.5" dy="16.4">10ms (1.11%)</tspan></text></g>

<g id="node-runtime-systemstack" class="n"><rect x="406" y="1845" width="118" height="47" fill="#ede9e5" stroke="#b29877"/><text class="f8" x="465" y="1860.2">runtime<tspan x="465" dy="12">systemstack</tspan><tspan x="465" dy="12">0 of 60ms (6.67%)</tspan></text></g>
<g id="node-runtime-bucket-mp" class="n"><rect x="2304" y="1838" width="125" height="74" fill="#edeceb" stroke="#b2afa8"/><text class="f11" x="2366.5" y="1855.5">runtime<tspan x="2366.5" dy="16.4">(*bucket)</tspan><tspan x="2366.5" dy="16.4">mp</tspan><tspan x="2366.5" dy="16.4">10ms (1.11%)</tspan></text></g>

<g id="node-runtime-futex" class="n"><rect x="225" y="1977" width="144" height="66" fill="#edebe9" stroke="#b2a794"/><text class="f13" x="297" y="1996.7">runtime<tspan x="297" dy="19.4">futex</tspan><tspan x="297" dy="19.4">30ms (3.33%)</tspan></text></g>
<g id="node-runtime-gcDrainN" class="n"><rect x="393" y="1973" width="144" height="74" fill="#edecea" stroke="#b2ac9e"/><text class="f11" x="465" y="1990.5">runtime<tspan x="465" dy="16.4">gcDrainN</tspan><tspan x="465" dy="16.4">10ms (1.11%)</tspan><tspan x="465" dy="16.4">of 20ms (2.22%)</tspan></text></g>
<g id="node-runtime-scanobject" class="n"><rect x="71" y="2114" width="143" height="73" fill="#edebe9" stroke="#b2a794"/><text class="f11" x="142.5" y="2131">runtime<tspan x="142.5" dy="16.4">scanobject</tspan><tspan x="142.5" dy="16.4">10ms (1.11%)</tspan><tspan x="142.5" dy="16.4">of 30ms (3.33%)</tspan></text></g>
<g id="node-runtime-heapBits-nextFast" class="n"><rect x="5" y="2274" width="126" height="74" fill="#edeceb" stroke="#b2afa8"/><text class="f11" x="68" y="2291.5">runtime<tspan x="68" dy="16.4">heapBits</tspan><tspan x="68" dy="16.4">nextFast</tspan><tspan x="68" dy="16.4">10ms (1.11%)</tspan></text></g>
<g id="node-runtime-spanOf" class="n"><rect x="154" y="2283" width="126" height="57" fill="#edeceb" stroke="#b2afa8"/><text class="f11" x="217" y="2300.2">runtime<tspan x="217" dy="16.4">spanOf</tspan><tspan x="217" dy="16.4">10ms (1.11%)</tspan></text></g>
</svg>
